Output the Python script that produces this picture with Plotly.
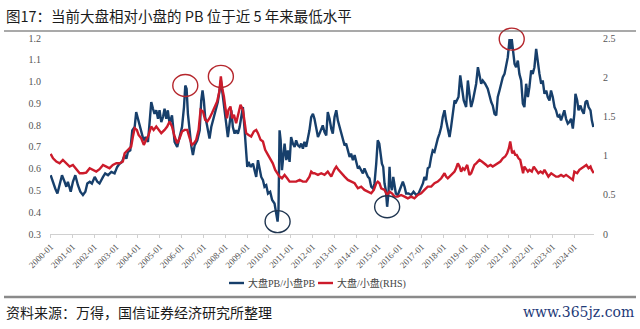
import plotly.graph_objects as go

# ---------------- data ----------------
BLUE_T = [2000.0, 2000.11, 2000.21, 2000.31, 2000.41, 2000.52, 2000.61, 2000.72, 2000.79, 2000.92,
          2001.02, 2001.13, 2001.25, 2001.36, 2001.48, 2001.59, 2001.68, 2001.79, 2001.89, 2002.02,
          2002.14, 2002.24, 2002.40, 2002.50, 2002.63, 2002.78, 2002.93, 2003.05, 2003.16, 2003.27,
          2003.39, 2003.47, 2003.54, 2003.65, 2003.74, 2003.85, 2003.92, 2004.00, 2004.08, 2004.15,
          2004.26, 2004.35, 2004.46, 2004.53, 2004.61, 2004.69, 2004.76, 2004.84, 2004.92, 2004.99,
          2005.07, 2005.15, 2005.22, 2005.30, 2005.37, 2005.45, 2005.56, 2005.68, 2005.80, 2005.91,
          2006.02, 2006.11, 2006.17, 2006.23, 2006.29, 2006.37, 2006.44, 2006.52, 2006.60, 2006.72,
          2006.83, 2006.90, 2006.96, 2007.02, 2007.08, 2007.15, 2007.21, 2007.28, 2007.36, 2007.44,
          2007.51, 2007.59, 2007.66, 2007.74, 2007.80, 2007.86, 2007.94, 2008.00, 2008.08, 2008.12,
          2008.20, 2008.28, 2008.35, 2008.43, 2008.50, 2008.58, 2008.66, 2008.73, 2008.81, 2008.89,
          2008.96, 2009.01, 2009.07, 2009.16, 2009.27, 2009.34, 2009.42, 2009.50, 2009.57, 2009.65,
          2009.73, 2009.80, 2009.88, 2009.96, 2010.06, 2010.15, 2010.26, 2010.34, 2010.40, 2010.44,
          2010.49, 2010.54, 2010.60, 2010.66, 2010.72, 2010.80, 2010.87, 2010.95, 2011.02, 2011.10,
          2011.18, 2011.25, 2011.33, 2011.41, 2011.48, 2011.56, 2011.63, 2011.71, 2011.79, 2011.86,
          2011.94, 2012.02, 2012.09, 2012.17, 2012.25, 2012.32, 2012.40, 2012.47, 2012.55, 2012.63,
          2012.70, 2012.78, 2012.86, 2012.93, 2013.01, 2013.09, 2013.16, 2013.24, 2013.31, 2013.39,
          2013.47, 2013.54, 2013.62, 2013.70, 2013.77, 2013.85, 2013.93, 2014.00, 2014.08, 2014.15,
          2014.23, 2014.31, 2014.38, 2014.46, 2014.54, 2014.61, 2014.69, 2014.77, 2014.84, 2014.92,
          2014.99, 2015.06, 2015.12, 2015.18, 2015.24, 2015.30, 2015.36, 2015.42, 2015.48, 2015.53,
          2015.57, 2015.64, 2015.70, 2015.76, 2015.82, 2015.91, 2015.99, 2016.06, 2016.14, 2016.22,
          2016.29, 2016.40, 2016.52, 2016.63, 2016.75, 2016.86, 2016.95, 2017.06, 2017.13, 2017.21,
          2017.28, 2017.36, 2017.44, 2017.51, 2017.59, 2017.67, 2017.74, 2017.82, 2017.90, 2017.97,
          2018.05, 2018.12, 2018.20, 2018.28, 2018.35, 2018.43, 2018.51, 2018.58, 2018.69, 2018.77,
          2018.84, 2018.93, 2019.04, 2019.12, 2019.19, 2019.27, 2019.35, 2019.42, 2019.50, 2019.58,
          2019.65, 2019.73, 2019.80, 2019.91, 2020.03, 2020.11, 2020.19, 2020.26, 2020.34, 2020.42,
          2020.49, 2020.57, 2020.64, 2020.72, 2020.80, 2020.87, 2020.95, 2021.03, 2021.09, 2021.13,
          2021.19, 2021.26, 2021.33, 2021.41, 2021.48, 2021.56, 2021.64, 2021.71, 2021.79, 2021.87,
          2021.94, 2022.02, 2022.09, 2022.17, 2022.25, 2022.32, 2022.40, 2022.48, 2022.55, 2022.63,
          2022.71, 2022.78, 2022.86, 2022.93, 2023.01, 2023.09, 2023.16, 2023.24, 2023.32, 2023.39,
          2023.47, 2023.54, 2023.62, 2023.70, 2023.77, 2023.85, 2023.93, 2024.00, 2024.05, 2024.13,
          2024.19, 2024.28, 2024.35, 2024.43, 2024.51, 2024.58, 2024.65, 2024.74, 2024.80, 2024.87]
BLUE_V = [0.570, 0.532, 0.509, 0.486, 0.524, 0.570, 0.547, 0.517, 0.540, 0.494,
          0.540, 0.570, 0.524, 0.494, 0.479, 0.494, 0.532, 0.540, 0.532, 0.562,
          0.540, 0.532, 0.562, 0.578, 0.570, 0.585, 0.578, 0.608, 0.623, 0.631,
          0.662, 0.646, 0.677, 0.684, 0.776, 0.791, 0.860, 0.829, 0.807, 0.776,
          0.730, 0.745, 0.723, 0.807, 0.906, 0.875, 0.852, 0.868, 0.829, 0.868,
          0.814, 0.837, 0.875, 0.829, 0.868, 0.807, 0.845, 0.723, 0.700, 0.745,
          0.791, 0.883, 0.982, 0.967, 0.852, 0.776, 0.707, 0.662, 0.707, 0.730,
          0.776, 0.913, 0.959, 0.913, 0.837, 0.807, 0.776, 0.738, 0.791, 0.822,
          0.852, 0.883, 0.906, 0.959, 1.005, 0.959, 0.898, 0.845, 0.791, 0.745,
          0.807, 0.868, 0.791, 0.761, 0.776, 0.761, 0.791, 0.837, 0.883, 0.776,
          0.684, 0.608, 0.631, 0.608, 0.623, 0.593, 0.562, 0.639, 0.608, 0.562,
          0.547, 0.517, 0.524, 0.486, 0.494, 0.456, 0.440, 0.402, 0.357, 0.410,
          0.776, 0.730, 0.593, 0.654, 0.715, 0.639, 0.684, 0.631, 0.745, 0.715,
          0.700, 0.730, 0.707, 0.700, 0.715, 0.692, 0.723, 0.700, 0.738, 0.776,
          0.837, 0.852, 0.829, 0.776, 0.745, 0.761, 0.784, 0.799, 0.768, 0.753,
          0.860, 0.829, 0.784, 0.761, 0.837, 0.868, 0.822, 0.791, 0.761, 0.730,
          0.707, 0.715, 0.684, 0.654, 0.669, 0.639, 0.662, 0.631, 0.601, 0.608,
          0.593, 0.578, 0.601, 0.578, 0.562, 0.555, 0.517, 0.509, 0.532, 0.623,
          0.730, 0.715, 0.669, 0.623, 0.608, 0.532, 0.501, 0.425, 0.486, 0.608,
          0.532, 0.501, 0.562, 0.517, 0.486, 0.479, 0.501, 0.524, 0.540, 0.517,
          0.486, 0.486, 0.479, 0.494, 0.479, 0.486, 0.509, 0.532, 0.562, 0.547,
          0.601, 0.608, 0.654, 0.684, 0.677, 0.715, 0.738, 0.761, 0.791, 0.837,
          0.868, 0.822, 0.776, 0.745, 0.791, 0.868, 0.913, 0.906, 0.929, 1.028,
          0.967, 0.913, 0.883, 1.005, 0.944, 0.883, 0.913, 0.959, 0.990, 1.066,
          1.035, 0.990, 1.005, 0.990, 0.967, 0.929, 0.906, 0.890, 0.852, 0.845,
          0.929, 0.959, 0.990, 1.020, 1.035, 1.066, 1.112, 1.195, 1.150, 1.195,
          1.127, 1.081, 1.066, 1.096, 1.035, 1.005, 0.898, 0.883, 0.990, 0.929,
          0.974, 1.051, 1.035, 1.066, 1.150, 1.081, 1.035, 0.990, 1.005, 0.944,
          0.959, 0.929, 0.913, 0.959, 0.929, 0.883, 0.868, 0.837, 0.845, 0.822,
          0.845, 0.868, 0.829, 0.807, 0.814, 0.829, 0.784, 0.852, 0.944, 0.913,
          0.868, 0.890, 0.868, 0.852, 0.906, 0.913, 0.883, 0.868, 0.822, 0.791]

RED_T = [2000.0, 2000.11, 2000.26, 2000.41, 2000.56, 2000.72, 2000.87, 2001.02, 2001.18, 2001.33,
         2001.48, 2001.63, 2001.79, 2001.94, 2002.09, 2002.24, 2002.40, 2002.55, 2002.70, 2002.85,
         2003.01, 2003.16, 2003.31, 2003.39, 2003.54, 2003.69, 2003.77, 2003.85, 2003.95, 2004.03,
         2004.15, 2004.27, 2004.38, 2004.49, 2004.61, 2004.72, 2004.84, 2004.95, 2005.07, 2005.22,
         2005.34, 2005.45, 2005.56, 2005.68, 2005.80, 2005.91, 2006.02, 2006.14, 2006.26, 2006.37,
         2006.47, 2006.57, 2006.67, 2006.78, 2006.87, 2006.98, 2007.08, 2007.18, 2007.28, 2007.39,
         2007.51, 2007.63, 2007.73, 2007.80, 2007.86, 2007.94, 2008.00, 2008.08, 2008.15, 2008.24,
         2008.32, 2008.40, 2008.50, 2008.61, 2008.70, 2008.81, 2008.89, 2008.96, 2009.07, 2009.19,
         2009.31, 2009.42, 2009.50, 2009.62, 2009.73, 2009.83, 2009.96, 2010.08, 2010.18, 2010.29,
         2010.41, 2010.49, 2010.60, 2010.72, 2010.84, 2010.95, 2011.10, 2011.25, 2011.41, 2011.56,
         2011.71, 2011.86, 2011.94, 2012.02, 2012.09, 2012.25, 2012.40, 2012.55, 2012.70, 2012.86,
         2013.01, 2013.09, 2013.19, 2013.31, 2013.47, 2013.62, 2013.77, 2013.93, 2014.08, 2014.23,
         2014.38, 2014.54, 2014.69, 2014.81, 2014.92, 2014.99, 2015.07, 2015.15, 2015.30, 2015.42,
         2015.53, 2015.64, 2015.76, 2015.91, 2016.06, 2016.22, 2016.37, 2016.52, 2016.67, 2016.83,
         2016.98, 2017.13, 2017.28, 2017.44, 2017.59, 2017.74, 2017.90, 2018.05, 2018.12, 2018.20,
         2018.35, 2018.51, 2018.58, 2018.66, 2018.74, 2018.81, 2018.89, 2018.97, 2019.09, 2019.19,
         2019.27, 2019.35, 2019.42, 2019.50, 2019.58, 2019.65, 2019.76, 2019.88, 2019.96, 2020.03,
         2020.16, 2020.26, 2020.37, 2020.49, 2020.61, 2020.72, 2020.83, 2020.92, 2021.00, 2021.06,
         2021.10, 2021.15, 2021.23, 2021.29, 2021.36, 2021.44, 2021.52, 2021.59, 2021.65, 2021.71,
         2021.79, 2021.87, 2021.94, 2022.05, 2022.14, 2022.25, 2022.35, 2022.45, 2022.55, 2022.63,
         2022.71, 2022.81, 2022.94, 2023.04, 2023.16, 2023.27, 2023.39, 2023.51, 2023.62, 2023.73,
         2023.85, 2023.93, 2024.00, 2024.13, 2024.23, 2024.34, 2024.46, 2024.55, 2024.65, 2024.74,
         2024.80, 2024.89]
RED_V = [1.022, 0.966, 0.924, 0.902, 0.945, 0.902, 0.860, 0.881, 0.818, 0.775,
         0.775, 0.783, 0.839, 0.818, 0.796, 0.826, 0.881, 0.860, 0.839, 0.881,
         0.902, 0.902, 0.924, 1.030, 1.073, 1.115, 1.243, 1.350, 1.328, 1.264,
         1.222, 1.137, 1.201, 1.264, 1.371, 1.328, 1.371, 1.328, 1.286, 1.328,
         1.371, 1.435, 1.371, 1.243, 1.158, 1.222, 1.307, 1.328, 1.328, 1.222,
         1.137, 1.158, 1.201, 1.328, 1.584, 1.563, 1.456, 1.435, 1.477, 1.541,
         1.626, 1.690, 1.818, 2.010, 1.861, 1.754, 1.626, 1.477, 1.584, 1.626,
         1.477, 1.520, 1.413, 1.541, 1.648, 1.584, 1.435, 1.286, 1.264, 1.243,
         1.307, 1.328, 1.286, 1.201, 1.179, 1.073, 1.009, 0.945, 0.902, 0.818,
         0.775, 0.732, 0.711, 0.754, 0.711, 0.668, 0.668, 0.668, 0.690, 0.668,
         0.668, 0.732, 0.796, 0.775, 0.775, 0.754, 0.775, 0.754, 0.796, 0.732,
         0.826, 0.860, 0.818, 0.775, 0.732, 0.690, 0.668, 0.647, 0.583, 0.604,
         0.562, 0.540, 0.519, 0.562, 0.647, 0.668, 0.647, 0.583, 0.562, 0.498,
         0.540, 0.519, 0.477, 0.477, 0.498, 0.477, 0.455, 0.477, 0.455, 0.498,
         0.519, 0.562, 0.604, 0.604, 0.647, 0.668, 0.711, 0.775, 0.732, 0.711,
         0.754, 0.796, 0.839, 0.902, 0.860, 0.796, 0.839, 0.818, 0.881, 0.754,
         0.775, 0.839, 0.881, 0.902, 0.924, 0.945, 0.924, 0.902, 0.881, 0.860,
         0.881, 0.860, 0.881, 0.902, 0.924, 0.966, 0.988, 1.030, 1.094, 1.179,
         1.115, 1.030, 1.052, 1.009, 1.009, 0.966, 0.945, 0.860, 0.775, 0.860,
         0.818, 0.796, 0.818, 0.796, 0.860, 0.818, 0.775, 0.796, 0.775, 0.818,
         0.775, 0.732, 0.775, 0.754, 0.732, 0.732, 0.754, 0.732, 0.754, 0.732,
         0.711, 0.690, 0.796, 0.775, 0.818, 0.839, 0.860, 0.881, 0.839, 0.860,
         0.818, 0.775]

TICK_YEARS = list(range(2000, 2025))
TICK_TEXT = [f"{y}-01" for y in TICK_YEARS]
LEFT_TICKS = [0.3, 0.4, 0.5, 0.6, 0.7, 0.8, 0.9, 1.0, 1.1, 1.2]
RIGHT_TICKS = [0, 0.5, 1, 1.5, 2, 2.5]
LEFT_RANGE = [0.3, 1.2]
RIGHT_RANGE = [0, 2.5]

TITLE = "图17：当前大盘相对小盘的 PB 位于近 5 年来最低水平"
SOURCE = "资料来源：万得，国信证券经济研究所整理"
WATERMARK = "www.365jz.com"
NAME_BLUE = "大盘PB/小盘PB"
NAME_RED = "大盘/小盘(RHS)"

# circles: (series, window start, window end, mode)
CIRCLES = [("blue", 2006.0, 2006.5, "max"), ("red", 2007.5, 2008.0, "max"),
           ("blue", 2020.8, 2021.3, "max"), ("blue", 2010.0, 2010.6, "min"),
           ("blue", 2015.2, 2015.6, "min")]

# ---------------- figure ----------------
W, H = 640, 329
L, R, T, B = 50, 46, 38, 95
PW, PH = W - L - R, H - T - B

def px2paper(x, y):
    return (x - L) / PW, (H - B - y) / PH

BLUE = "#173f6b"
RED = "#cc1b2b"

fig = go.Figure()
fig.add_trace(go.Scatter(x=BLUE_T, y=BLUE_V, mode="lines", name=NAME_BLUE,
                         line=dict(color=BLUE, width=2.4), yaxis="y", showlegend=False))
fig.add_trace(go.Scatter(x=RED_T, y=RED_V, mode="lines", name=NAME_RED,
                         line=dict(color=RED, width=2.4), yaxis="y2", showlegend=False))

shapes = []
for ser, a, b, mode in CIRCLES:
    ts, vs, rng = (BLUE_T, BLUE_V, LEFT_RANGE) if ser == "blue" else (RED_T, RED_V, RIGHT_RANGE)
    cand = [(v, t) for t, v in zip(ts, vs) if a <= t <= b]
    v, t = (max(cand) if mode == "max" else min(cand))
    yp = (v - rng[0]) / (rng[1] - rng[0])   # value -> paper fraction (not clipped)
    col = "#b5262c" if mode == "max" else "#1f3550"
    shapes.append(dict(type="circle", xref="x", yref="paper",
                       xsizemode="pixel", ysizemode="pixel", xanchor=t, yanchor=yp,
                       x0=-12.5, x1=12.5, y0=-11, y1=11,
                       line=dict(color=col, width=1.4)))

# title underline and bottom separator
x0p, y0p = px2paper(4, 31)
x1p, _ = px2paper(636, 31)
shapes.append(dict(type="line", xref="paper", yref="paper", x0=x0p, x1=x1p, y0=y0p, y1=y0p,
                   line=dict(color="#555555", width=1.2)))
_, ybp = px2paper(0, 297)
shapes.append(dict(type="line", xref="paper", yref="paper", x0=x0p, x1=x1p, y0=ybp, y1=ybp,
                   line=dict(color="#8a8a8a", width=2.5)))

annotations = []
ax_, ay_ = px2paper(4, 15)
annotations.append(dict(text=TITLE, xref="paper", yref="paper", x=ax_, y=ay_, xanchor="left",
                        yanchor="middle", showarrow=False,
                        font=dict(family="Noto Sans CJK SC", size=14.5, color="#1a1a1a")))
ax_, ay_ = px2paper(4, 312)
annotations.append(dict(text=SOURCE, xref="paper", yref="paper", x=ax_, y=ay_, xanchor="left",
                        yanchor="middle", showarrow=False,
                        font=dict(family="Noto Sans CJK SC", size=14, color="#1a1a1a")))
ax_, ay_ = px2paper(636, 312)
annotations.append(dict(text=WATERMARK, xref="paper", yref="paper", x=ax_, y=ay_, xanchor="right",
                        yanchor="middle", showarrow=False,
                        font=dict(family="DejaVu Serif", size=14, color="#1e3a78")))

# manual legend (sample line + label)
LEG_Y = 283
for (xs, xe, name, col) in [(229, 244, NAME_BLUE, BLUE), (318, 333, NAME_RED, RED)]:
    a0, yy = px2paper(xs, LEG_Y)
    a1, _ = px2paper(xe, LEG_Y)
    shapes.append(dict(type="line", xref="paper", yref="paper", x0=a0, x1=a1, y0=yy, y1=yy,
                       line=dict(color=col, width=2.4)))
    tx, _ = px2paper(xe + 2, LEG_Y)
    annotations.append(dict(text=name, xref="paper", yref="paper", x=tx, y=yy, xanchor="left",
                            yanchor="middle", showarrow=False,
                            font=dict(family="Liberation Serif, Noto Sans CJK SC", size=10,
                                      color="#444444")))

tickfont = dict(family="Liberation Serif", size=10, color="#555555")

fig.update_layout(
    width=W, height=H, margin=dict(l=L, r=R, t=T, b=B),
    paper_bgcolor="white", plot_bgcolor="white", showlegend=False,
    xaxis=dict(range=[1999.97, 2024.9], tickvals=TICK_YEARS, ticktext=TICK_TEXT,
               tickangle=-45, tickfont=dict(family="Liberation Serif", size=9, color="#555555"),
               showgrid=False, zeroline=False, showline=True, linecolor="#d0d0d0", linewidth=1,
               ticks="outside", ticklen=3, tickcolor="#d0d0d0"),
    yaxis=dict(range=LEFT_RANGE, tickvals=LEFT_TICKS, tickformat=".1f", tickfont=tickfont,
               showgrid=False, zeroline=False, showline=False, ticks="", ticklabelstandoff=8),
    yaxis2=dict(range=RIGHT_RANGE, tickvals=RIGHT_TICKS, tickfont=tickfont, overlaying="y",
                side="right", showgrid=False, zeroline=False, showline=False, ticks="",
                ticklabelstandoff=8),
    shapes=shapes, annotations=annotations,
)

fig.write_html("out.html", config={"displayModeBar": False})
